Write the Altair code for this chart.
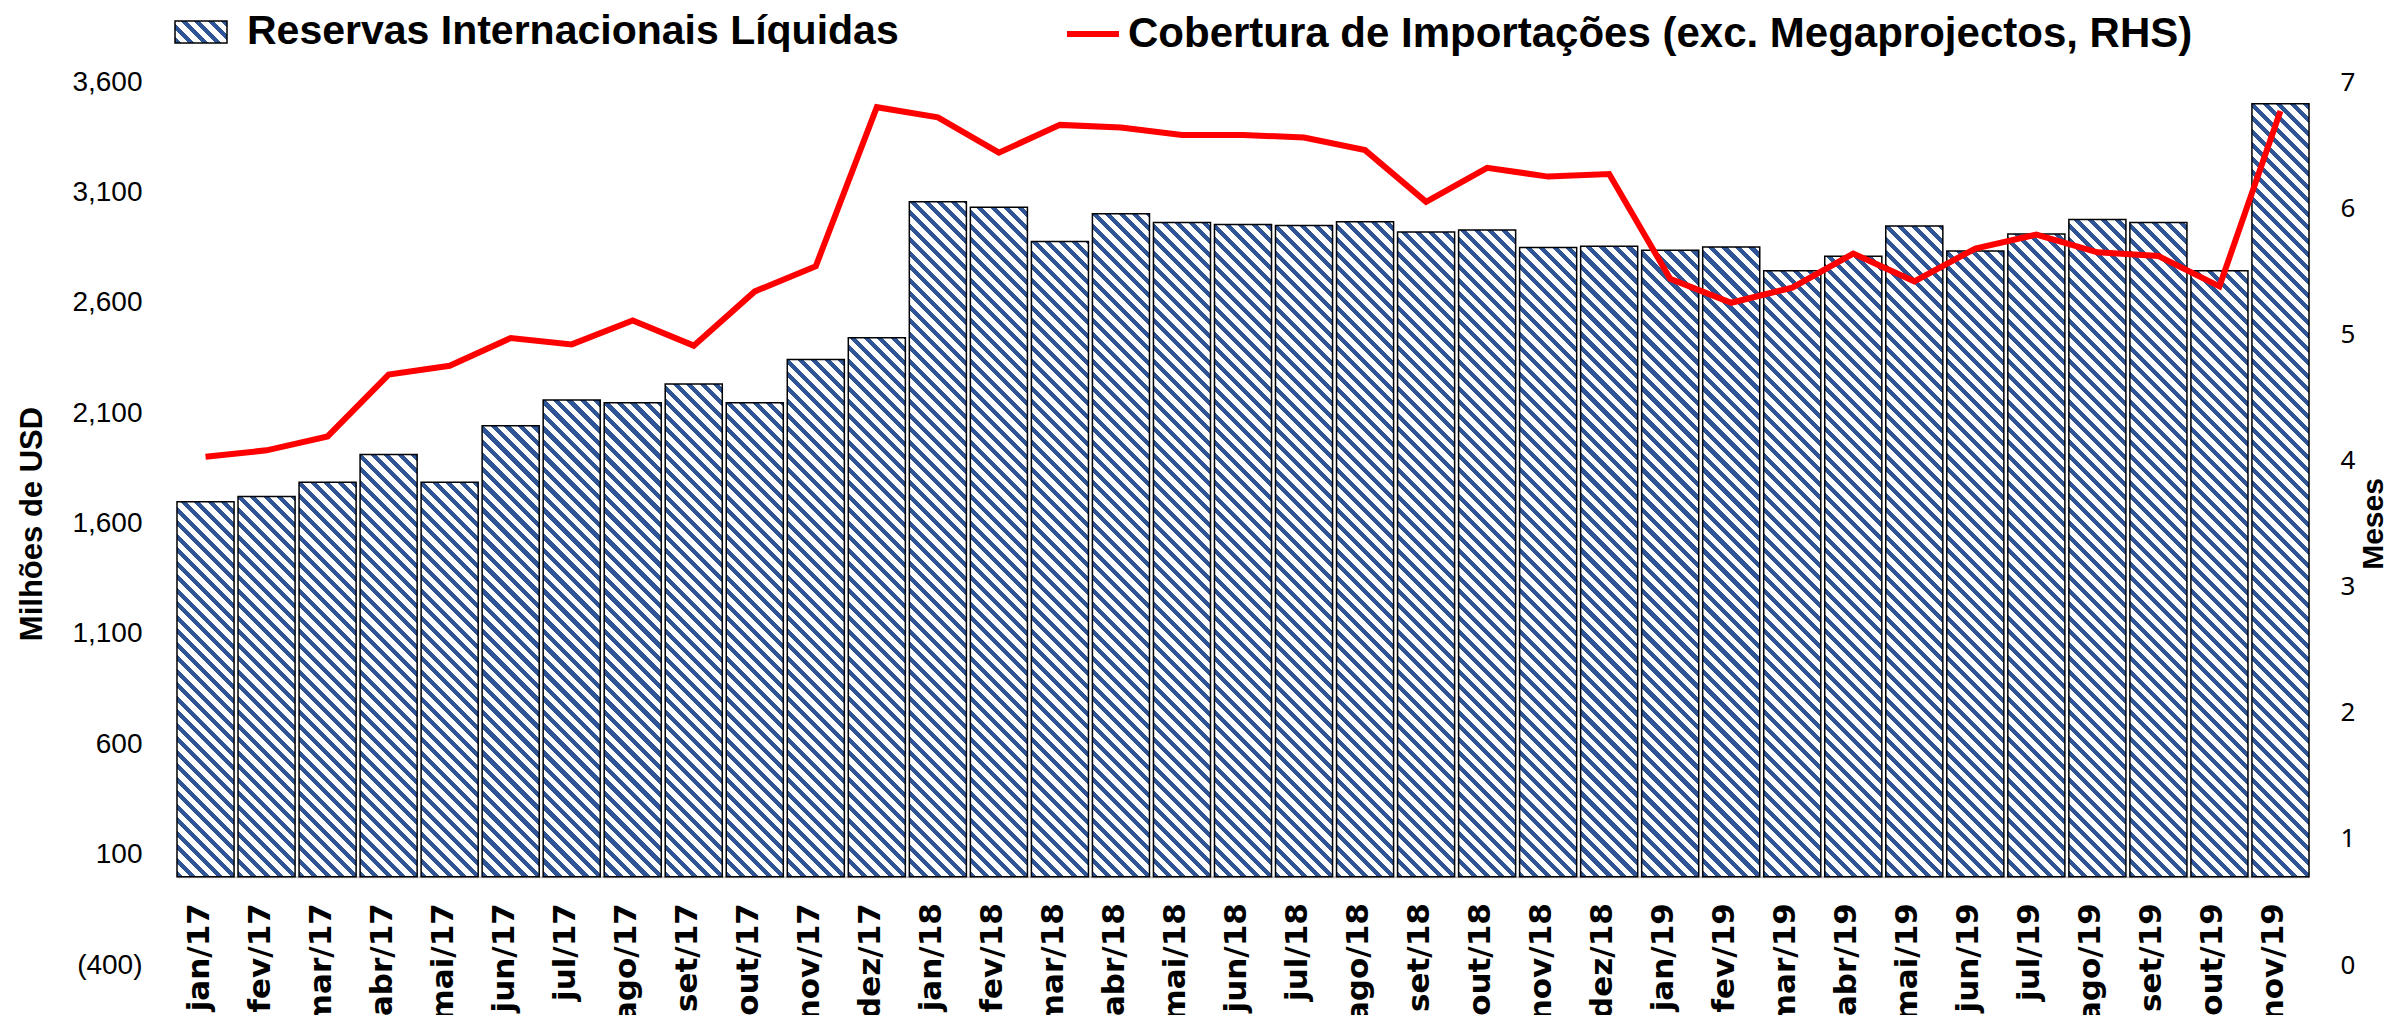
import json
import altair as alt
import pandas as pd

months = ["jan/17", "fev/17", "mar/17", "abr/17", "mai/17", "jun/17", "jul/17", "ago/17",
          "set/17", "out/17", "nov/17", "dez/17", "jan/18", "fev/18", "mar/18", "abr/18",
          "mai/18", "jun/18", "jul/18", "ago/18", "set/18", "out/18", "nov/18", "dez/18",
          "jan/19", "fev/19", "mar/19", "abr/19", "mai/19", "jun/19", "jul/19", "ago/19",
          "set/19", "out/19", "nov/19"]

reserves = [1698, 1722, 1787, 1913, 1787, 2043, 2159, 2147, 2232, 2147, 2343, 2441,
            3057, 3033, 2878, 3003, 2964, 2955, 2950, 2967, 2921, 2929, 2850, 2856,
            2838, 2853, 2745, 2811, 2948, 2834, 2911, 2977, 2964, 2745, 3501]

cover = [4.03, 4.08, 4.19, 4.68, 4.75, 4.97, 4.92, 5.11, 4.91, 5.34, 5.54, 6.80,
         6.72, 6.44, 6.66, 6.64, 6.58, 6.58, 6.56, 6.46, 6.05, 6.32, 6.25, 6.27,
         5.44, 5.25, 5.37, 5.64, 5.42, 5.68, 5.79, 5.65, 5.62, 5.38, 6.77]

left_ticks = [-400, 100, 600, 1100, 1600, 2100, 2600, 3100, 3600]
right_ticks = [0, 1, 2, 3, 4, 5, 6, 7]

LEG_BARS = "Reservas Internacionais Líquidas"
LEG_LINE = "Cobertura de Importações (exc. Megaprojectos, RHS)"

W, H = 2132, 883
Y_DOM = [-400, 3600]
R_DOM = [0, 7]
PAD_INNER = 0.065
BLUE = "#2F5597"
SANS = "Liberation Sans"


def hatch(w, h, period=13.5, frac=0.45):
    """Diagonal stripe fill (top-left to bottom-right) as a linear gradient."""
    s = w + h
    d = w * w + h * h
    a = w * s / d
    b = -h * s / d
    dp = period / s
    stops = []
    k = 0
    while k * dp < 1:
        o0 = round(k * dp, 5)
        o1 = round(min(k * dp + frac * dp, 1), 5)
        o2 = round(min(k * dp + dp, 1), 5)
        stops += [{"offset": o0, "color": BLUE}, {"offset": o1, "color": BLUE},
                  {"offset": o1, "color": "#FFFFFF"}, {"offset": o2, "color": "#FFFFFF"}]
        k += 1
    return {"gradient": "linear", "x1": 0, "y1": 1, "x2": round(a, 6), "y2": round(1 + b, 6),
            "stops": stops}


step = W / (len(months) - PAD_INNER)
bw = step * (1 - PAD_INNER)
grads = [hatch(bw, v / (Y_DOM[1] - Y_DOM[0]) * H) for v in reserves]

df = pd.DataFrame({"mes": months, "reservas": reserves, "cobertura": cover, "grad": grads,
                   "serie_r": LEG_BARS, "serie_c": LEG_LINE})

x_enc = alt.X(
    "mes:N", sort=months,
    scale=alt.Scale(paddingInner=PAD_INNER, paddingOuter=0),
    axis=alt.Axis(title=None, labelAngle=-90, labelAlign="right", labelBaseline="middle",
                  labelFont="DejaVu Sans", labelFontWeight="bold", labelFontSize=31,
                  labelColor="#000000", labelPadding=26, labelOffset=-6, ticks=False,
                  tickSize=0, domainColor="#BFBFBF", domainWidth=2, offset=-88.3,
                  labelOverlap=False, labelLimit=400),
)

bar_legend = alt.Legend(
    title=None, orient="none", legendX=-3, legendY=-77, padding=0,
    symbolType="M-1,-0.42H1V0.42H-1Z", symbolSize=2704, symbolStrokeColor="#000000",
    symbolStrokeWidth=1.5, symbolOpacity=1, labelOffset=19,
    symbolFillColor={"expr": json.dumps(hatch(52, 21.8))},
    labelFont=SANS, labelFontWeight="bold", labelFontSize=41,
    labelColor="#000000", labelLimit=2000, labelBaseline="middle",
)

line_legend = alt.Legend(
    title=None, orient="none", legendX=887, legendY=-77, padding=0,
    symbolType="stroke", symbolSize=2704, symbolStrokeColor="#FF0000",
    symbolStrokeWidth=6, symbolOpacity=1, labelOffset=6,
    labelFont=SANS, labelFontWeight="bold", labelFontSize=42,
    labelColor="#000000", labelLimit=2000, labelBaseline="middle",
)

bars = alt.Chart(df).mark_bar(strokeWidth=1.5).encode(
    x=x_enc,
    y=alt.Y(
        "reservas:Q", stack=None,
        scale=alt.Scale(domain=Y_DOM, nice=False),
        axis=alt.Axis(
            values=left_ticks, orient="left", grid=False, domain=False, ticks=False,
            labelExpr="datum.value < 0 ? '(' + format(-datum.value, ',') + ')' : format(datum.value, ',')",
            labelFont=SANS, labelFontSize=28, labelColor="#000000",
            labelPadding=35, title="Milhões de USD", titleFont=SANS,
            titleFontWeight="bold", titleFontSize=31, titleColor="#000000",
            titleAngle=270, titleX=-145, titleY=H / 2, titleAlign="center",
            titleBaseline="middle",
        ),
    ),
    fill=alt.Fill("grad:N", scale=None, legend=None),
    stroke=alt.Stroke("serie_r:N", scale=alt.Scale(domain=[LEG_BARS], range=["#000000"]),
                      legend=bar_legend),
)

line = alt.Chart(df).mark_line(strokeWidth=6).encode(
    x=x_enc,
    y=alt.Y(
        "cobertura:Q",
        scale=alt.Scale(domain=R_DOM, nice=False),
        axis=alt.Axis(
            values=right_ticks, orient="right", grid=False, domain=False, ticks=False,
            format="d", labelFont="Noto Sans", labelFontSize=26, labelColor="#000000",
            labelPadding=31, title="Meses", titleFont=SANS,
            titleFontWeight="bold", titleFontSize=30, titleColor="#000000",
            titleAngle=270, titleX=64, titleY=H / 2, titleAlign="center",
            titleBaseline="middle",
        ),
    ),
    color=alt.Color("serie_c:N", scale=alt.Scale(domain=[LEG_LINE], range=["#FF0000"]),
                    legend=line_legend),
)

chart = (
    alt.layer(bars, line)
    .resolve_scale(y="independent")
    .properties(
        width=W, height=H,
        autosize=alt.AutoSizeParams(type="none"),
        padding={"left": 169, "top": 74, "right": 80, "bottom": 50},
        background="#FFFFFF",
    )
    .configure_view(stroke=None)
)

chart.save("out.html", embed_options={"renderer": "svg", "actions": False})
